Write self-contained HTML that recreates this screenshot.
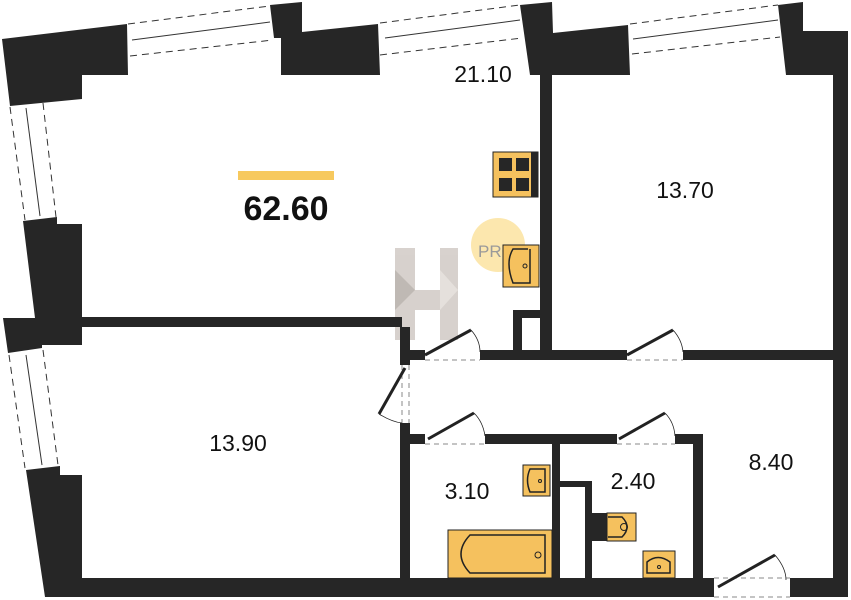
<!DOCTYPE html>
<html><head><meta charset="utf-8"><style>
html,body{margin:0;padding:0;background:#fff;width:851px;height:600px;overflow:hidden}
svg{display:block}
text{font-family:"Liberation Sans",sans-serif;fill:#111}
</style></head><body>
<svg width="851" height="600" viewBox="0 0 851 600" xmlns="http://www.w3.org/2000/svg">
<!-- watermark -->
<g opacity="0.55">
<polygon points="395,248 415,248 415,290 440,290 440,248 458,248 458,340 440,340 440,310 415,310 415,340 395,340" fill="#b8ada5"/>
<polygon points="395,270 415,290 395,310" fill="#8c8078"/>
<polygon points="440,270 458,290 440,310" fill="#d0c8c0"/>
</g>
<circle cx="498" cy="245" r="27" fill="#fbe3a0" opacity="0.85"/>
<text x="478" y="257" font-size="17" style="fill:#9a9a9a">PRO</text>

<g fill="#262626">
<!-- top-left corner block -->
<polygon points="2,39 127,24 128,75 82,75 82,99 10,106"/>
<!-- block 2 -->
<polygon points="270,5 302,2 302,32 378,24 380,75 281,75 281,38 274,38"/>
<!-- block 3 -->
<polygon points="520,5 552,2 553,33 628,25 630,75 530,75 530,75"/>
<rect x="540" y="75" width="12" height="275"/>
<!-- block 4 -->
<polygon points="778,5 803,2 803,31 848,31 848,75 786,75"/>
<rect x="833" y="31" width="15" height="566"/>
<!-- left middle block -->
<polygon points="23,221 57,217 57,224 82,224 82,345 42,345 42,348 8,353 3,318 35,318"/>
<!-- left bottom block -->
<polygon points="26,470 60,466 60,475 82,475 82,578 848,578 848,597 45,597"/>
<!-- horizontal wall living / 13.90 -->
<rect x="82" y="317" width="320" height="10"/>
<!-- vertical corridor wall -->
<rect x="400" y="327" width="10" height="38"/>
<rect x="400" y="423" width="10" height="155"/>
<!-- hall top wall -->
<rect x="410" y="350" width="15" height="10"/>
<rect x="480" y="350" width="147" height="10"/>
<rect x="683" y="350" width="150" height="10"/>
<!-- closet -->
<rect x="513" y="310" width="32" height="8"/>
<rect x="513" y="310" width="9" height="40"/>
<!-- lower hall wall -->
<rect x="410" y="434" width="15" height="10"/>
<rect x="485" y="434" width="132" height="10"/>
<rect x="675" y="434" width="28" height="10"/>
<rect x="693" y="434" width="10" height="144"/>
<!-- bath divider -->
<rect x="552" y="444" width="8" height="134"/>
<rect x="560" y="481" width="32" height="6"/>
<rect x="585" y="481" width="7" height="97"/>
</g>
<!-- entrance gap -->
<rect x="714" y="578" width="76" height="19" fill="#fff"/>

<!-- windows -->
<g fill="none" stroke="#333" stroke-width="1">
<g stroke-dasharray="7,5">
<line x1="128" y1="24" x2="270" y2="6"/><line x1="130" y1="56" x2="273" y2="40"/>
<line x1="380" y1="23" x2="520" y2="5"/><line x1="380" y1="55" x2="522" y2="38"/>
<line x1="630" y1="24" x2="778" y2="5"/><line x1="632" y1="54" x2="780" y2="37"/>
<line x1="10" y1="107" x2="25" y2="220"/><line x1="43" y1="103" x2="56" y2="217"/>
<line x1="9" y1="355" x2="25" y2="468"/><line x1="43" y1="350" x2="58" y2="465"/>
</g>
<line x1="132" y1="40" x2="270" y2="22"/>
<line x1="385" y1="38" x2="520" y2="20"/>
<line x1="633" y1="39" x2="778" y2="20"/>
<line x1="26" y1="108" x2="40" y2="216"/>
<line x1="26" y1="355" x2="42" y2="465"/>
</g>

<!-- doors -->
<g stroke="#222" fill="none">
<g stroke-dasharray="5,4" stroke="#888" stroke-width="1">
<line x1="425" y1="360" x2="480" y2="360"/>
<line x1="627" y1="360" x2="683" y2="360"/>
<line x1="425" y1="444" x2="485" y2="444"/>
<line x1="617" y1="444" x2="675" y2="444"/>
<line x1="402" y1="365" x2="402" y2="423"/><line x1="409" y1="365" x2="409" y2="423"/>
<line x1="714" y1="597" x2="790" y2="597"/><line x1="714" y1="578" x2="790" y2="578"/>
</g>
<g stroke-width="3">
<line x1="425" y1="355" x2="471" y2="330"/>
<line x1="627" y1="355" x2="673" y2="330"/>
<line x1="428" y1="439" x2="474" y2="413"/>
<line x1="619" y1="439" x2="665" y2="413"/>
<line x1="405" y1="368" x2="379" y2="414"/>
<line x1="718" y1="587" x2="775" y2="555"/>
</g>
<g stroke-width="0.8">
<path d="M471,330 Q480,340 480,352"/>
<path d="M673,330 Q682,340 683,352"/>
<path d="M474,413 Q483,422 485,436"/>
<path d="M665,413 Q674,422 675,436"/>
<path d="M379,414 Q392,422 402,423"/>
<path d="M775,555 Q786,568 786,580"/>
</g>
</g>

<!-- fixtures -->
<g stroke="#222" stroke-width="1">
<rect x="493" y="152" width="45" height="45" fill="#f5c15e"/>
<rect x="531" y="152" width="7" height="45" fill="#262626" stroke="none"/>
<rect x="503" y="245" width="36" height="42" fill="#f5c15e"/>
<path d="M528,249 L513,249 Q505,262 513,283 L530,283 L530,249" fill="none" stroke-width="1.5"/>
<circle cx="525" cy="266" r="2" fill="none"/>
<rect x="523" y="465" width="27" height="31" fill="#f5c15e"/>
<path d="M545,469 L530,469 Q525,480 530,492 L545,492 Z" fill="none" stroke-width="1.5"/>
<circle cx="540" cy="481" r="1.5" fill="none"/>
<rect x="448" y="530" width="104" height="48" fill="#f5c15e"/>
<path d="M545,535 L470,535 Q452,554 470,573 L545,573 Z" fill="none" stroke-width="1.5"/>
<circle cx="538" cy="555" r="3" fill="none"/>
<rect x="592" y="513" width="15" height="28" fill="#262626" stroke="none"/>
<rect x="607" y="513" width="29" height="28" fill="#f5c15e"/>
<path d="M608,517 L622,517 Q632,527 622,537 L608,537" fill="none" stroke-width="1.5"/>
<circle cx="624" cy="527" r="3.5" fill="none"/>
<rect x="643" y="551" width="32" height="27" fill="#f5c15e"/>
<path d="M647,573 L647,562 Q658,553 670,562 L670,573 Z" fill="none" stroke-width="1.5"/>
<circle cx="659" cy="567" r="1.5" fill="none"/>
</g>
<g fill="#262626">
<rect x="499" y="158" width="13" height="13"/><rect x="516" y="158" width="13" height="13"/>
<rect x="499" y="178" width="13" height="13"/><rect x="516" y="178" width="13" height="13"/>
</g>

<rect x="238" y="171" width="96" height="9" fill="#f7c95e"/>
<text x="286" y="220" font-size="34" font-weight="bold" text-anchor="middle">62.60</text>
<g font-size="23" text-anchor="middle">
<text x="483" y="82">21.10</text>
<text x="685" y="198">13.70</text>
<text x="238" y="451">13.90</text>
<text x="467" y="499">3.10</text>
<text x="633" y="489">2.40</text>
<text x="771" y="470">8.40</text>
</g>
</svg>
</body></html>
